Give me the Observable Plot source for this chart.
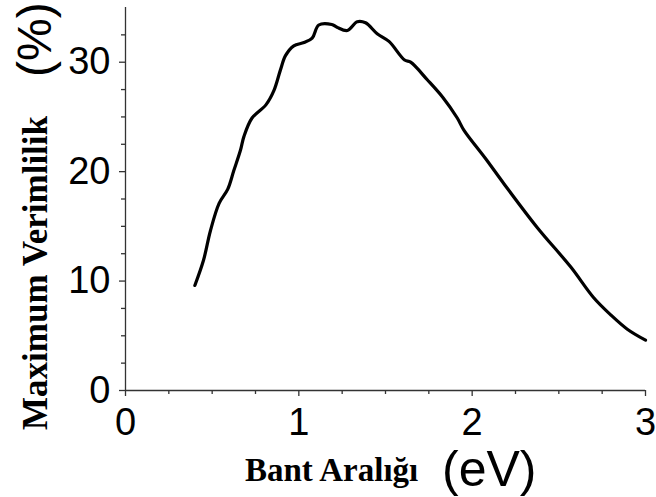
<!DOCTYPE html>
<html>
<head>
<meta charset="utf-8">
<script src="https://cdn.jsdelivr.net/npm/d3@7"></script>
<script src="https://cdn.jsdelivr.net/npm/@observablehq/plot@0.6"></script>
<style>
  html, body { margin: 0; padding: 0; background: #fff; }
</style>
</head>
<body>
<div id="chart"></div>
<script>
// Band gap (eV) and maximum efficiency (%)
const bandGap = [0.40, 0.45, 0.49, 0.54, 0.59, 0.625, 0.664, 0.683, 0.73, 0.81, 0.856, 0.894, 0.923, 0.971, 1.03, 1.077, 1.115, 1.19, 1.22, 1.28, 1.337, 1.385, 1.452, 1.52, 1.61, 1.645, 1.741, 1.83, 1.914, 1.952, 2.077, 2.183, 2.375, 2.568, 2.70, 2.80, 2.895, 3.0];
const efficiency = [9.6, 11.9, 14.6, 17.1, 18.4, 20.1, 22.0, 23.2, 24.9, 26.1, 27.4, 29.3, 30.6, 31.5, 31.8, 32.2, 33.4, 33.45, 33.2, 32.9, 33.7, 33.6, 32.6, 31.9, 30.2, 30.0, 28.4, 26.8, 24.9, 23.8, 21.2, 18.9, 14.9, 11.3, 8.5, 6.9, 5.6, 4.6];
const xTicks = [0, 1, 2, 3];
const yTicks = [0, 10, 20, 30];
const xMinor = [0.25, 0.5, 0.75, 1.25, 1.5, 1.75, 2.25, 2.5, 2.75];
const yMinor = [2.5, 5, 7.5, 12.5, 15, 17.5, 22.5, 25, 27.5, 32.5];
const xLabel = ["Bant Aralığı", "(eV)"];
const yLabel = ["Maximum Verimlilik", "(%)"];

const data = bandGap.map((e, i) => ({e, v: efficiency[i]}));
const axisColor = "#333";

const chart = Plot.plot({
  width: 656,
  height: 497,
  marginLeft: 125,
  marginRight: 11,
  marginTop: 7,
  marginBottom: 107,
  style: {fontFamily: "'Liberation Sans', Arial, sans-serif", fontSize: "38px", color: "black", background: "white", overflow: "visible"},
  x: {domain: [0, 3]},
  y: {domain: [0, 35]},
  marks: [
    Plot.line(data, {x: "e", y: "v", curve: "catmull-rom", stroke: "black", strokeWidth: 3.2, strokeLinejoin: "round", strokeLinecap: "round"}),
    Plot.axisX({ticks: xTicks, tickSize: 6, tickPadding: 12, stroke: axisColor, strokeWidth: 1.3, fontSize: 38, label: null, tickFormat: d => String(d)}),
    Plot.axisX({ticks: xMinor, tickSize: 4, stroke: axisColor, strokeWidth: 1.3, tickFormat: () => "", label: null}),
    Plot.axisY({ticks: yTicks, tickSize: 6, tickPadding: 9, stroke: axisColor, strokeWidth: 1.3, fontSize: 38, label: null, tickFormat: d => String(d)}),
    Plot.axisY({ticks: yMinor, tickSize: 4, stroke: axisColor, strokeWidth: 1.3, tickFormat: () => "", label: null}),
    Plot.ruleX([0], {y1: 0, y2: 35, stroke: axisColor, strokeWidth: 1.3}),
    Plot.ruleY([0], {stroke: axisColor, strokeWidth: 1.3})
  ]
});

const svg = d3.select(chart);
// X axis label
svg.append("text")
  .attr("x", 245).attr("y", 481)
  .attr("text-anchor", "start")
  .attr("font-family", "'Liberation Serif', 'Times New Roman', serif")
  .attr("font-weight", "bold").attr("font-size", 33).attr("fill", "black")
  .text(xLabel[0]);
svg.append("text")
  .attr("x", 442).attr("y", 486)
  .attr("text-anchor", "start")
  .attr("font-family", "'Liberation Sans', Arial, sans-serif")
  .attr("font-size", 50).attr("fill", "black")
  .text(xLabel[1]);
// Y axis label
svg.append("text")
  .attr("transform", "translate(47,430) rotate(-90)")
  .attr("text-anchor", "start")
  .attr("font-family", "'Liberation Serif', 'Times New Roman', serif")
  .attr("font-weight", "bold").attr("font-size", 35).attr("fill", "black")
  .text(yLabel[0]);
svg.append("text")
  .attr("transform", "translate(51,77) rotate(-90)")
  .attr("text-anchor", "start")
  .attr("font-family", "'Liberation Sans', Arial, sans-serif")
  .attr("font-size", 48).attr("fill", "black")
  .text(yLabel[1]);

document.getElementById("chart").appendChild(chart);
</script>
</body>
</html>
